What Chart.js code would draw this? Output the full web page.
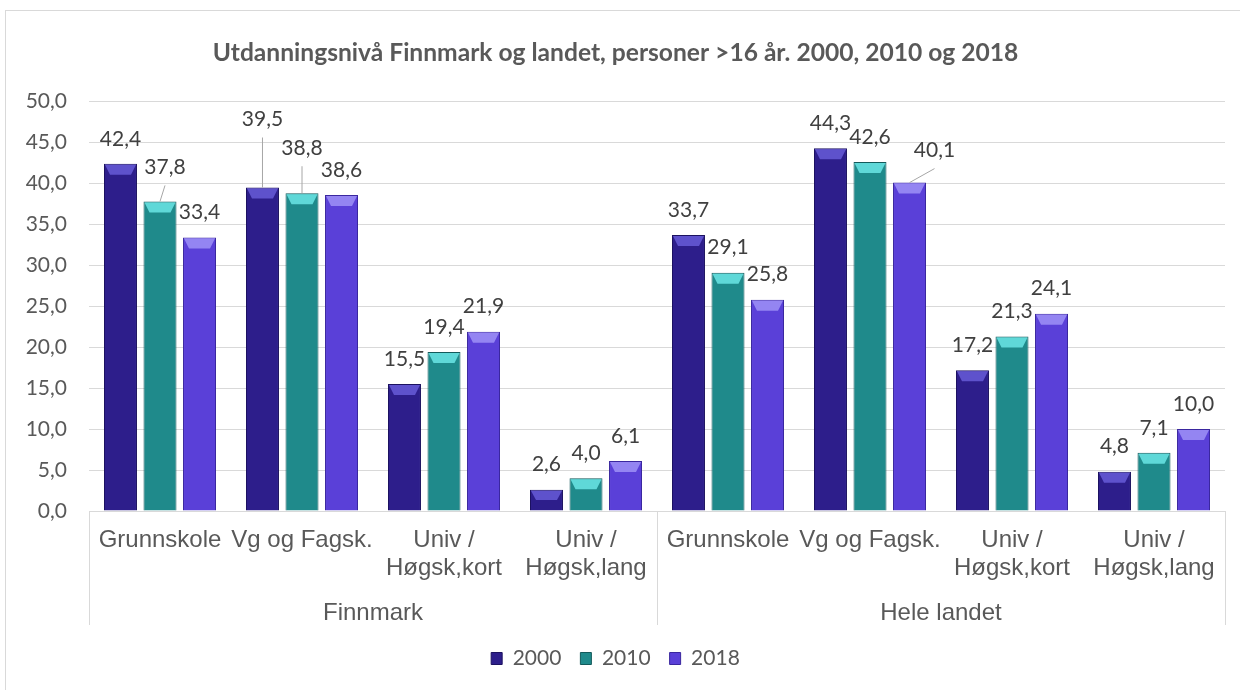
<!DOCTYPE html>
<html>
<head>
<meta charset="utf-8">
<title>Utdanningsnivå Finnmark og landet</title>
<script src="https://cdn.jsdelivr.net/npm/chart.js@4.4.1/dist/chart.umd.min.js"></script>
<style>
    html, body { margin: 0; padding: 0; background: #fff; overflow: hidden; }
    #box {
        position: absolute;
        left: 5px;
        top: 10px;
        width: 1240px;
        height: 690px;
        border: 1px solid #d9d9d9;
        background: #fff;
    }
</style>
</head>
<body>
<div id="box"><canvas id="eduChart" width="1240" height="690"></canvas></div>
<script>
// ---- data ----
const regions = ['Finnmark', 'Hele landet'];
const levels = [['Grunnskole'], ['Vg og Fagsk.'], ['Univ /', 'Høgsk,kort'], ['Univ /', 'Høgsk,lang']];
const years = ['2000', '2010', '2018'];

const values2000 = [42.4, 39.5, 15.5, 2.6, 33.7, 44.3, 17.2, 4.8];
const values2010 = [37.8, 38.8, 19.4, 4.0, 29.1, 42.6, 21.3, 7.1];
const values2018 = [33.4, 38.6, 21.9, 6.1, 25.8, 40.1, 24.1, 10.0];

const yTicks = [0, 5, 10, 15, 20, 25, 30, 35, 40, 45, 50];

// ---- styling ----
const fills   = ['#2d1e8b', '#1f8a8b', '#5a40d8'];
const lights  = ['#5e52cc', '#5fd8d8', '#9485f2'];
const borders = ['#1c1260', '#135a5b', '#3a279f'];

// labels that Excel moved by hand (dataset-index) -> [dx, dy]
const movedLabels = {
    '1-0': [5, -9],
    '0-1': [0, -43],
    '1-1': [0, -20],
    '2-5': [25, -7]
};

const fmt = v => v.toFixed(1).replace('.', ',');

// sub labels repeated for each region
const subLabels = [];
regions.forEach(() => levels.forEach(l => subLabels.push(l)));

// top bevel on each bar
const bevelPlugin = {
    id: 'bevel',
    afterDatasetsDraw(chart) {
        const ctx = chart.ctx;
        chart.data.datasets.forEach((ds, di) => {
            const meta = chart.getDatasetMeta(di);
            meta.data.forEach(el => {
                const p = el.getProps(['x', 'y', 'base', 'width'], true);
                const left = p.x - p.width / 2 + 1;
                const right = p.x + p.width / 2 - 1;
                const h = Math.min(10, (p.base - p.y) * 0.45);
                ctx.save();
                ctx.fillStyle = lights[di];
                ctx.beginPath();
                ctx.moveTo(left, p.y + 1);
                ctx.lineTo(right, p.y + 1);
                ctx.lineTo(right - 5, p.y + 1 + h);
                ctx.lineTo(left + 5, p.y + 1 + h);
                ctx.closePath();
                ctx.fill();
                ctx.restore();
            });
        });
    }
};

// value labels above bars
const valueLabelPlugin = {
    id: 'valueLabels',
    afterDatasetsDraw(chart) {
        const ctx = chart.ctx;
        ctx.save();
        ctx.font = '21px Lato';
        ctx.fillStyle = '#404040';
        ctx.textAlign = 'center';
        ctx.textBaseline = 'middle';
        chart.data.datasets.forEach((ds, di) => {
            const meta = chart.getDatasetMeta(di);
            meta.data.forEach((el, i) => {
                const p = el.getProps(['x', 'y'], true);
                const off = movedLabels[di + '-' + i];
                const lx = p.x + (off ? off[0] : 0);
                const ly = p.y - 25 + (off ? off[1] : 0);
                if (off) {
                    ctx.strokeStyle = '#a6a6a6';
                    ctx.lineWidth = 1;
                    ctx.beginPath();
                    ctx.moveTo(p.x, p.y);
                    ctx.lineTo(lx, ly + 18);
                    ctx.stroke();
                }
                ctx.fillText(fmt(ds.data[i]), lx, ly);
            });
        });
        ctx.restore();
    }
};

// group separators below the category axis
const separatorPlugin = {
    id: 'separators',
    afterDraw(chart) {
        const ctx = chart.ctx;
        const area = chart.chartArea;
        const x2 = chart.scales.x2;
        const mid = (x2.getPixelForTick(0) + x2.getPixelForTick(1)) / 2;
        const bottom = x2.top + 40;
        ctx.save();
        ctx.strokeStyle = '#d9d9d9';
        ctx.lineWidth = 1;
        [area.left, mid, area.right].forEach(x => {
            const px = Math.round(x) + 0.5;
            ctx.beginPath();
            ctx.moveTo(px, area.bottom);
            ctx.lineTo(px, bottom);
            ctx.stroke();
        });
        ctx.restore();
    }
};

const allValues = [values2000, values2010, values2018];

new Chart(document.getElementById('eduChart'), {
    type: 'bar',
    data: {
        labels: subLabels,
        datasets: years.map((y, i) => ({
            label: y,
            data: allValues[i],
            backgroundColor: fills[i],
            borderColor: borders[i],
            borderWidth: 1,
            barPercentage: 0.835,
            categoryPercentage: 0.835
        }))
    },
    options: {
        responsive: false,
        animation: false,
        layout: {
            padding: { left: 0, right: 21, top: 0, bottom: 22 }
        },
        plugins: {
            title: {
                display: true,
                text: 'Utdanningsnivå Finnmark og landet, personer >16 år. 2000, 2010 og 2018',
                color: '#595959',
                font: { family: 'Lato', size: 24.6, weight: 'bold' },
                padding: { top: 27, bottom: 34 }
            },
            legend: {
                position: 'bottom',
                labels: {
                    boxWidth: 11,
                    boxHeight: 12,
                    padding: 19,
                    color: '#595959',
                    font: { family: 'Lato', size: 21 }
                }
            },
            tooltip: { enabled: false }
        },
        scales: {
            y: {
                min: 0,
                max: 50,
                afterBuildTicks: scale => {
                    scale.ticks = yTicks.map(v => ({ value: v }));
                },
                afterFit: scale => { scale.width = 83; },
                border: { display: false },
                grid: { color: '#d9d9d9', drawTicks: false },
                ticks: {
                    padding: 22,
                    color: '#595959',
                    font: { family: 'Lato', size: 21 },
                    callback: v => fmt(v)
                }
            },
            x: {
                afterFit: scale => { scale.height = 74; },
                grid: { display: false },
                border: { display: true, color: '#d9d9d9' },
                ticks: {
                    padding: 8,
                    maxRotation: 0,
                    autoSkip: false,
                    color: '#595959',
                    font: { family: 'Liberation Sans', size: 24, lineHeight: 1.15 }
                }
            },
            x2: {
                type: 'category',
                position: 'bottom',
                labels: regions,
                offset: true,
                afterFit: scale => { scale.height = 44; },
                grid: { display: false },
                border: { display: false },
                ticks: {
                    padding: 7,
                    maxRotation: 0,
                    color: '#595959',
                    font: { family: 'Liberation Sans', size: 24, lineHeight: 1.15 }
                }
            }
        }
    },
    plugins: [bevelPlugin, valueLabelPlugin, separatorPlugin]
});
</script>
</body>
</html>
